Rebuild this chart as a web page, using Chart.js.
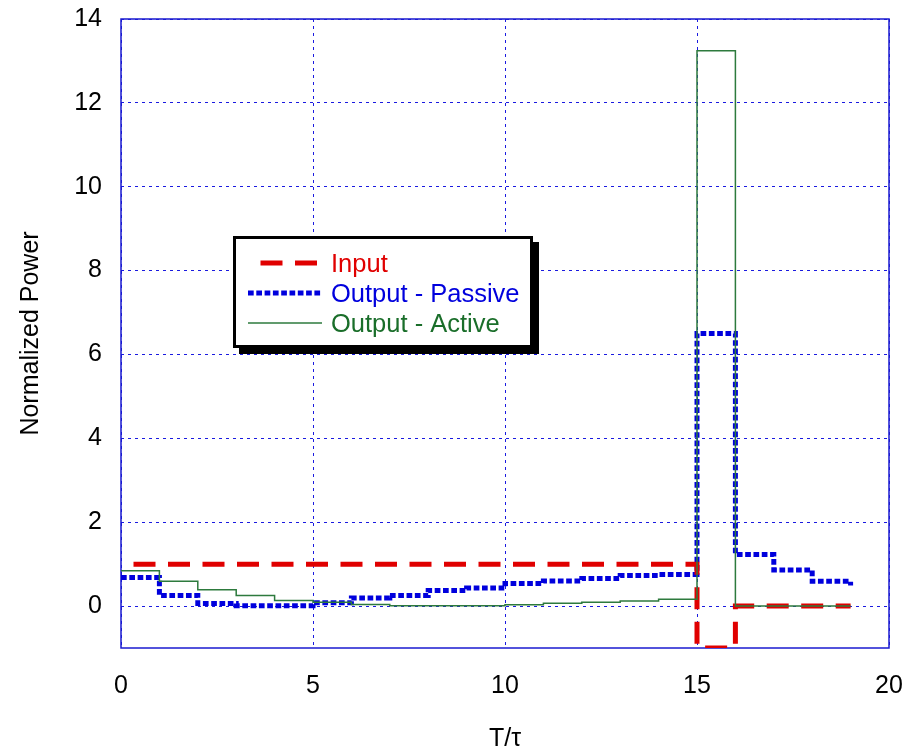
<!DOCTYPE html>
<html>

<head>
    <title>Normalized Power</title>
    <meta charset="utf-8">
    <style>
        body {
            margin: 0;
            background: #ffffff;
        }

        .chart-box {
            width: 907px;
            height: 752px;
            position: relative;
        }
    </style>
    <script src="https://cdn.jsdelivr.net/npm/chart.js"></script>
</head>

<body>
    <div class="chart-box">
        <canvas id="powerChart"></canvas>
    </div>

    <script>
        // T/tau sample points (each value holds until the next point)
        var tSteps = [0, 1, 2, 3, 4, 5, 6, 7, 8, 9, 10, 11, 12, 13, 14, 15, 16, 17, 18, 19];
        var inputPower = [1, 1, 1, 1, 1, 1, 1, 1, 1, 1, 1, 1, 1, 1, 1, -1, 0, 0, 0, 0];
        var passivePower = [0.68, 0.25, 0.06, 0.01, 0.01, 0.08, 0.19, 0.25, 0.37, 0.43, 0.54, 0.60, 0.66, 0.73, 0.75, 6.5, 1.23, 0.86, 0.59, 0.49];
        var activePower = [0.84, 0.59, 0.39, 0.25, 0.13, 0.09, 0.04, 0.01, 0.01, 0.01, 0.03, 0.07, 0.09, 0.12, 0.16, 13.24, 0, 0, 0, 0];
        var xTicks = [0, 5, 10, 15, 20];
        var yTicks = [0, 2, 4, 6, 8, 10, 12, 14];

        var seriesNames = ['Input', 'Output - Passive', 'Output - Active'];
        var textColors = ['#e00000', '#0000dd', '#1a6e2a'];

        function toPoints(values) {
            return tSteps.map(function (t, i) { return { x: t, y: values[i] }; });
        }

        var fontFamily = '"Liberation Sans", Arial, sans-serif';

        // plot frame on all four sides
        var frame = {
            id: 'frame',
            beforeDatasetsDraw: function (chart) {
                var a = chart.chartArea, ctx = chart.ctx;
                ctx.save();
                ctx.strokeStyle = '#1a1ad0';
                ctx.lineWidth = 1.5;
                ctx.strokeRect(a.left, a.top, a.right - a.left, a.bottom - a.top);
                ctx.restore();
            }
        };

        // boxed legend with drop shadow, inside the plot
        var boxLegend = {
            id: 'boxLegend',
            afterDraw: function (chart) {
                var a = chart.chartArea, ctx = chart.ctx;
                var x = a.left + 112, y = a.top + 217, w = 300, h = 112;
                ctx.save();
                ctx.fillStyle = '#000';
                ctx.fillRect(x + 6, y + 6, w, h);
                ctx.fillStyle = '#fff';
                ctx.fillRect(x, y, w, h);
                ctx.lineWidth = 3;
                ctx.strokeStyle = '#000';
                ctx.strokeRect(x + 1.5, y + 1.5, w - 3, h - 3);
                chart.data.datasets.forEach(function (ds, i) {
                    var ly = y + 27 + i * 30;
                    ctx.beginPath();
                    ctx.setLineDash(ds.borderDash || []);
                    ctx.lineDashOffset = ds.borderDashOffset || 0;
                    ctx.strokeStyle = ds.borderColor;
                    ctx.lineWidth = ds.borderWidth;
                    ctx.moveTo(x + 15, ly);
                    ctx.lineTo(x + 89, ly);
                    ctx.stroke();
                    ctx.setLineDash([]);
                    ctx.fillStyle = textColors[i];
                    ctx.font = '25.5px ' + fontFamily;
                    ctx.textBaseline = 'middle';
                    ctx.fillText(ds.label, x + 98, ly + 2);
                });
                ctx.restore();
            }
        };

        var ctx = document.getElementById('powerChart').getContext('2d');
        var powerChart = new Chart(ctx, {
            type: 'line',
            data: {
                datasets: [{
                    label: seriesNames[0],
                    data: toPoints(inputPower),
                    borderColor: '#e00000',
                    borderWidth: 5,
                    borderDash: [22, 12.5],
                    borderDashOffset: 22,
                    stepped: true,
                    order: 1
                }, {
                    label: seriesNames[1],
                    data: toPoints(passivePower),
                    borderColor: '#0000dd',
                    borderWidth: 5,
                    borderDash: [5.7, 2.6],
                    stepped: true,
                    order: 2
                }, {
                    label: seriesNames[2],
                    data: toPoints(activePower),
                    borderColor: '#2d7a3d',
                    borderWidth: 1.5,
                    stepped: true,
                    order: 0
                }]
            },
            options: {
                responsive: true,
                maintainAspectRatio: false,
                animation: false,
                elements: {
                    point: { radius: 0, hoverRadius: 0 },
                    line: { tension: 0, fill: false }
                },
                layout: {
                    padding: { top: 19, right: 18, left: 0, bottom: 0 }
                },
                plugins: {
                    legend: { display: false },
                    tooltip: { enabled: false }
                },
                scales: {
                    x: {
                        type: 'linear',
                        min: 0,
                        max: 20,
                        afterBuildTicks: function (scale) {
                            scale.ticks = xTicks.map(function (v) { return { value: v }; });
                        },
                        afterFit: function (scale) {
                            scale.height = 104;
                            scale.paddingLeft = 0;
                            scale.paddingRight = 0;
                        },
                        grid: { color: '#1a1ae0', lineWidth: 1, drawTicks: false },
                        border: { display: false, dash: [3, 4] },
                        ticks: {
                            padding: 23,
                            color: '#000',
                            font: { family: fontFamily, size: 25 }
                        },
                        title: {
                            display: true,
                            text: 'T/τ',
                            color: '#000',
                            padding: { top: 0, bottom: 0 },
                            font: { family: fontFamily, size: 25, lineHeight: 1 }
                        }
                    },
                    y: {
                        type: 'linear',
                        min: -1,
                        max: 14,
                        afterBuildTicks: function (scale) {
                            scale.ticks = yTicks.map(function (v) { return { value: v }; });
                        },
                        afterFit: function (scale) {
                            scale.width = 121;
                            scale.paddingTop = 0;
                            scale.paddingBottom = 0;
                        },
                        grid: { color: '#1a1ae0', lineWidth: 1, drawTicks: false },
                        border: { display: false, dash: [3, 4] },
                        ticks: {
                            padding: 19,
                            color: '#000',
                            font: { family: fontFamily, size: 25 }
                        },
                        title: {
                            display: true,
                            text: 'Normalized Power',
                            color: '#000',
                            padding: { top: 19, bottom: 0 },
                            font: { family: fontFamily, size: 25, lineHeight: 1 }
                        }
                    }
                }
            },
            plugins: [frame, boxLegend]
        });
    </script>
</body>

</html>
